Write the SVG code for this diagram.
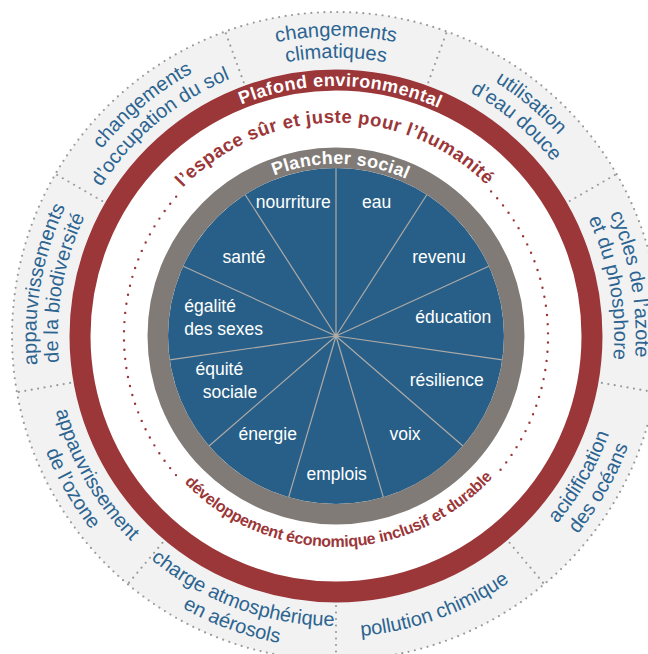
<svg xmlns="http://www.w3.org/2000/svg" xmlns:xlink="http://www.w3.org/1999/xlink" width="648" height="654" viewBox="0 0 648 654">
<style>
.lbl{font-family:"Liberation Sans",Arial,sans-serif;font-size:20px;fill:#2c6491;}
.soc{font-family:"Liberation Sans",Arial,sans-serif;font-size:17.5px;fill:#ffffff;}
.ring{font-family:"Liberation Sans",Arial,sans-serif;font-weight:bold;font-size:18px;fill:#ffffff;}
.red{font-family:"Liberation Sans",Arial,sans-serif;font-weight:bold;fill:#9b3639;}
.sep{stroke:#9a9a9a;stroke-width:2.2;stroke-dasharray:0 6.5;stroke-linecap:round;fill:none;}
.spoke{stroke:#aeaaa6;stroke-width:1.2;}
.rdot{stroke:#9b3639;stroke-width:2.4;stroke-dasharray:0 9.2;stroke-linecap:round;fill:none;}
</style>
<defs>
<path id="t300" d="M 40.6 283.9 A 300 300 0 0 1 631.4 283.9"/>
<path id="t278" d="M 62.2 287.7 A 278 278 0 0 1 609.8 287.7"/>
<path id="t250" d="M 89.8 292.6 A 250 250 0 0 1 582.2 292.6"/>
<path id="t213" d="M 126.2 299 A 213 213 0 0 1 545.8 299"/>
<path id="t172" d="M 166.6 306.1 A 172 172 0 0 1 505.4 306.1"/>
<path id="b290" d="M 50.4 386.3 A 290 290 0 0 0 621.6 386.3"/>
<path id="b312" d="M 28.7 390.2 A 312 312 0 0 0 643.3 390.2"/>
<path id="b301" d="M 39.6 388.3 A 301 301 0 0 0 632.4 388.3"/>
<path id="b211" d="M 128.2 372.6 A 211 211 0 0 0 543.8 372.6"/>
</defs>
<rect width="648" height="654" fill="#ffffff"/>

<g id="outer-ring">
<circle cx="336" cy="336" r="324" fill="#f2f2f2"/>
<circle cx="336" cy="336" r="324" class="sep"/>
<circle cx="336" cy="336" r="266.5" fill="#ffffff"/>
</g>

<g id="connectors">
<line class="sep" x1="428.3" y1="82.3" x2="446.5" y2="32.5"/>
<line class="sep" x1="569.8" y1="201" x2="615.7" y2="174.5"/>
<line class="sep" x1="601.9" y1="382.9" x2="654.1" y2="392.1"/>
<line class="sep" x1="509.6" y1="542.8" x2="543.6" y2="583.4"/>
<line class="sep" x1="336" y1="606" x2="336" y2="659"/>
<line class="sep" x1="162.4" y1="542.8" x2="128.4" y2="583.4"/>
<line class="sep" x1="70.1" y1="382.9" x2="17.9" y2="392.1"/>
<line class="sep" x1="102.2" y1="201" x2="56.3" y2="174.5"/>
<line class="sep" x1="243.7" y1="82.3" x2="225.5" y2="32.5"/>
</g>

<g id="plafond">
<circle cx="336" cy="336" r="256" fill="none" stroke="#9b3639" stroke-width="21"/>
<g transform="rotate(1 336 336)"><text class="ring"><textPath xlink:href="#t250" href="#t250" startOffset="50%" text-anchor="middle" textLength="203" lengthAdjust="spacing">Plafond environmental</textPath></text></g>
</g>

<g id="espace">
<path class="rdot" d="M 491.1 191.4 A 212 212 0 0 1 496 475.1"/>
<path class="rdot" d="M 176 475.1 A 212 212 0 0 1 180.9 191.4"/>
<g transform="rotate(-0.5 336 336)"><text class="red" font-size="18.5"><textPath xlink:href="#t213" href="#t213" startOffset="50%" text-anchor="middle" textLength="338" lengthAdjust="spacing">l’espace sûr et juste pour l’humanité</textPath></text></g>
<g transform="rotate(-1 336 336)"><text class="red" font-size="16"><textPath xlink:href="#b211" href="#b211" startOffset="50%" text-anchor="middle" textLength="346" lengthAdjust="spacing">développement économique inclusif et durable</textPath></text></g>
</g>

<g id="plancher">
<circle cx="336" cy="336" r="168" fill="#285f88"/>
<g id="spokes">
<line class="spoke" x1="336" y1="336" x2="336" y2="168"/>
<line class="spoke" x1="336" y1="336" x2="426.8" y2="194.7"/>
<line class="spoke" x1="336" y1="336" x2="488.8" y2="266.2"/>
<line class="spoke" x1="336" y1="336" x2="502.3" y2="359.9"/>
<line class="spoke" x1="336" y1="336" x2="463" y2="446"/>
<line class="spoke" x1="336" y1="336" x2="383.3" y2="497.2"/>
<line class="spoke" x1="336" y1="336" x2="288.7" y2="497.2"/>
<line class="spoke" x1="336" y1="336" x2="209" y2="446"/>
<line class="spoke" x1="336" y1="336" x2="169.7" y2="359.9"/>
<line class="spoke" x1="336" y1="336" x2="183.2" y2="266.2"/>
<line class="spoke" x1="336" y1="336" x2="245.2" y2="194.7"/>
<circle cx="336" cy="336" r="2.5" fill="#aeaaa6"/>
</g>
<circle cx="336" cy="336" r="178.25" fill="none" stroke="#807b77" stroke-width="20.5"/>
<g transform="rotate(1.5 336 336)"><text class="ring"><textPath xlink:href="#t172" href="#t172" startOffset="50%" text-anchor="middle" textLength="136" lengthAdjust="spacing">Plancher social</textPath></text></g>
</g>

<g id="social-foundation" class="soc">
<text id="nourriture" x="293.3" y="208" text-anchor="middle">nourriture</text>
<text id="eau" x="376.7" y="208" text-anchor="middle">eau</text>
<text id="revenu" x="439" y="263.3" text-anchor="middle">revenu</text>
<text id="education" x="453.3" y="323.3" text-anchor="middle">éducation</text>
<text id="resilience" x="446.7" y="386" text-anchor="middle">résilience</text>
<text id="voix" x="405" y="440" text-anchor="middle">voix</text>
<text id="emplois" x="336.7" y="480" text-anchor="middle">emplois</text>
<text id="energie" x="267.7" y="440" text-anchor="middle">énergie</text>
<text id="equite" x="219.3" y="375" text-anchor="middle">équité</text>
<text x="230" y="398.3" text-anchor="middle">sociale</text>
<text id="egalite" x="184.3" y="311.7">égalité</text>
<text x="184.3" y="335">des sexes</text>
<text id="sante" x="244" y="263.3" text-anchor="middle">santé</text>
</g>

<g id="ceiling-labels" class="lbl">
<g id="climat"><text><textPath xlink:href="#t300" href="#t300" startOffset="50%" text-anchor="middle">changements</textPath></text><text><textPath xlink:href="#t278" href="#t278" startOffset="50%" text-anchor="middle">climatiques</textPath></text></g>
<g id="eau-douce" transform="rotate(40 336 336)"><text><textPath xlink:href="#t300" href="#t300" startOffset="50%" text-anchor="middle">utilisation</textPath></text><text><textPath xlink:href="#t278" href="#t278" startOffset="50%" text-anchor="middle">d’eau douce</textPath></text></g>
<g id="azote" transform="rotate(80 336 336)"><text><textPath xlink:href="#t300" href="#t300" startOffset="50%" text-anchor="middle">cycles de l’azote</textPath></text><text><textPath xlink:href="#t278" href="#t278" startOffset="50%" text-anchor="middle">et du phosphore</textPath></text></g>
<g id="acidification" transform="rotate(-60 336 336)"><text><textPath xlink:href="#b290" href="#b290" startOffset="50%" text-anchor="middle">acidification</textPath></text><text><textPath xlink:href="#b312" href="#b312" startOffset="50%" text-anchor="middle">des océans</textPath></text></g>
<g id="pollution" transform="rotate(-20 336 336)"><text><textPath xlink:href="#b301" href="#b301" startOffset="50%" text-anchor="middle">pollution chimique</textPath></text></g>
<g id="aerosols" transform="rotate(20 336 336)"><text><textPath xlink:href="#b290" href="#b290" startOffset="50%" text-anchor="middle">charge atmosphérique</textPath></text><text><textPath xlink:href="#b312" href="#b312" startOffset="50%" text-anchor="middle">en aérosols</textPath></text></g>
<g id="ozone" transform="rotate(60 336 336)"><text><textPath xlink:href="#b290" href="#b290" startOffset="50%" text-anchor="middle">appauvrissement</textPath></text><text><textPath xlink:href="#b312" href="#b312" startOffset="50%" text-anchor="middle">de l’ozone</textPath></text></g>
<g id="biodiversite" transform="rotate(-80 336 336)"><text><textPath xlink:href="#t300" href="#t300" startOffset="50%" text-anchor="middle">appauvrissements</textPath></text><text><textPath xlink:href="#t278" href="#t278" startOffset="50%" text-anchor="middle">de la biodiversité</textPath></text></g>
<g id="sol" transform="rotate(-40 336 336)"><text><textPath xlink:href="#t300" href="#t300" startOffset="50%" text-anchor="middle">changements</textPath></text><text><textPath xlink:href="#t278" href="#t278" startOffset="50%" text-anchor="middle">d’occupation du sol</textPath></text></g>
</g>
</svg>
